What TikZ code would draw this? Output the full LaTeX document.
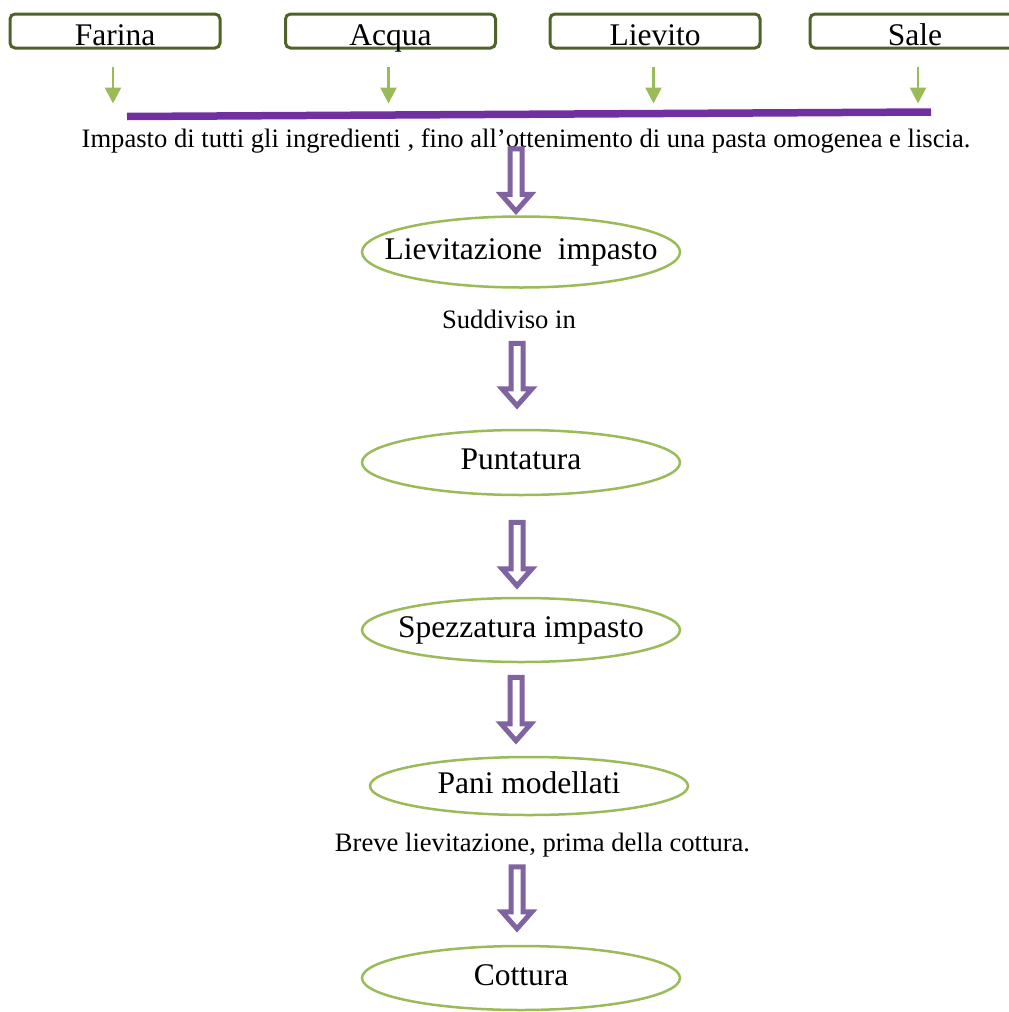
\documentclass[tikz,border=0pt]{standalone}
\usepackage{fontspec}
\setmainfont{Liberation Serif}
\usetikzlibrary{calc,shapes.geometric,arrows.meta}
\definecolor{boxgreen}{HTML}{4F6228}
\definecolor{stepgreen}{HTML}{9BBB59}
\definecolor{flowpurple}{HTML}{8064A2}
\definecolor{barpurple}{HTML}{7030A0}
\newcommand{\bigfont}{\fontsize{31.5}{36}\selectfont}
\newcommand{\smallfont}{\fontsize{26.6}{30}\selectfont}
\tikzset{
  ingbox/.style={rectangle,draw=boxgreen,line width=3pt,rounded corners=5pt,
    minimum width=210pt,minimum height=34pt,inner sep=0pt,
    text height=28pt,text depth=0pt,font=\bigfont},
  stepell/.style={ellipse,draw=stepgreen,line width=2.5pt,minimum width=318pt,
    inner xsep=-40pt,inner ysep=0pt,text height=21pt,text depth=7pt,font=\bigfont},
  note/.style={inner sep=0pt,anchor=base,font=\smallfont},
  ingarrow/.style={color=stepgreen,line width=2.7pt,-{Triangle[width=16pt,length=16pt]}},
  blockarrow/.style={draw=flowpurple,fill=white,line width=5pt,
    to path={let \p1=(\tikztostart),\p2=(\tikztotarget) in
      (\x2-6pt,\y1) -- (\x2-6pt,\y2+17pt) -- (\x2-15pt,\y2+17pt) -- (\x2,\y2)
      -- (\x2+15pt,\y2+17pt) -- (\x2+6pt,\y2+17pt) -- (\x2+6pt,\y1) -- cycle}}
}
\begin{document}
\begin{tikzpicture}[x=1pt,y=-1pt]
\useasboundingbox (0,0) rectangle (1009,1012);
% ingredienti
\node[ingbox] (far) at (115, 31) {Farina};
\node[ingbox] (acq) at (390.5, 31) {Acqua};
\node[ingbox] (liev) at (655, 31) {Lievito};
\node[ingbox] (sale) at (915, 31) {Sale};
\coordinate (barl) at (127, 116.5);
\coordinate (barr) at (931, 112);
\draw[barpurple,line width=7.5pt] (barl) -- (barr);
\draw[ingarrow] ([xshift=-2pt,yshift=-17pt]far.south) -- ([xshift=-2pt,yshift=-54pt]far.south);
\draw[ingarrow] ([xshift=-2pt,yshift=-17pt]acq.south) -- ([xshift=-2pt,yshift=-54pt]acq.south);
\draw[ingarrow] ([xshift=-1.5pt,yshift=-17pt]liev.south) -- ([xshift=-1.5pt,yshift=-54pt]liev.south);
\draw[ingarrow] ([xshift=3pt,yshift=-17pt]sale.south) -- ([xshift=3pt,yshift=-54pt]sale.south);
% fasi
\node[note] (imp) at (526, 147) {Impasto di tutti gli ingredienti , fino all’ottenimento di una pasta omogenea e liscia.};
\node[stepell,minimum height=71pt] (lievit) at (521, 252) {Lievitazione\ \ impasto};
\node[note] (sudd) at (509, 328) {Suddiviso in};
\node[stepell,minimum height=65pt] (punt) at (521, 462.5) {Puntatura};
\node[stepell,minimum height=64pt] (spez) at (521, 630) {Spezzatura impasto};
\node[stepell,minimum height=58pt] (pani) at (529, 786) {Pani modellati};
\node[note] (breve) at (542.5, 851) {Breve lievitazione, prima della cottura.};
\node[stepell,minimum height=64pt] (cott) at (521, 978) {Cottura};
\path
    ([yshift=4pt]imp.south) [blockarrow] edge ([xshift=-5pt,yshift=4pt]lievit.north)
    ([yshift=-15pt]sudd.south) [blockarrow] edge ([xshift=-4pt,yshift=23pt]punt.north)
    ([yshift=-26pt]punt.south) [blockarrow] edge ([xshift=-4pt,yshift=11pt]spez.north)
    ([yshift=-14pt]spez.south) [blockarrow] edge ([xshift=-13pt,yshift=15pt]pani.north)
    ([yshift=-10pt]breve.south) [blockarrow] edge ([xshift=-4pt,yshift=16pt]cott.north);
\end{tikzpicture}
\end{document}
